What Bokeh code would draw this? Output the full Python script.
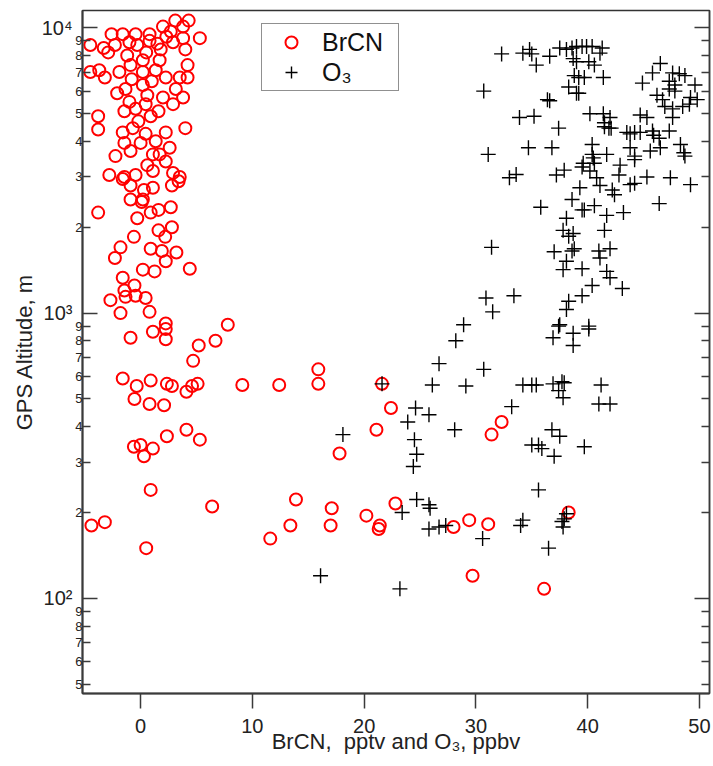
from bokeh.plotting import figure
from bokeh.models import LogAxis, FixedTicker, Legend, LegendItem, Range1d
from bokeh.embed import file_html
from bokeh.resources import INLINE

# ---------------- data ----------------
brcn_x = [3.1, 4.3, 2.0, -2.6, -1.6, -0.45, 0.8, 2.7, 3.8, 5.3,
          -4.5, -3.3, -2.9, -1.0, 0.2, 1.7, 0.8, 1.8, 2.9, 3.8,
          4.0, -2.3, -0.3, -4.5, -3.7, -3.2, -1.9, -0.9, 0.2, 1.35,
          2.25, 3.5, 4.2, 4.2, 0.2, -1.35, 3.15, 2.0, -2.1, -1.0,
          3.8, 2.9, 0.45, -3.8, -3.8, -1.45, -0.45, 0.9, -1.6, -0.7,
          0.45, 2.25, 4.0, -1.45, 0.0, 1.35, -2.25, -0.9, 1.1, 1.7,
          2.25, -2.8, -1.45, -0.45, 1.1, 2.9, 3.5,
          -1.2, 0.5, 1.5, 2.3, -0.8, 1.0, 0.6, 1.6, -0.2, 2.6, 0.6, -0.9,
          -1.6, 3.4, 2.8, -3.8, -0.9, 0.3, 0.1, -0.3, 0.9, 1.6,
          2.7, 1.6, 2.8, -0.6, -1.8, 0.9, 1.9, 3.2, -2.3, 1.1,
          0.2, 2.2, 2.25, 0.2, 1.25, 4.4, -1.6, -0.55, -1.45, -0.45,
          -1.35, -2.7, 0.45, -1.8, 0.8, 2.25, 2.25, -0.9, 1.1, 2.25,
          7.8, 5.2, 6.7, 4.7, -1.6, -0.35, 0.9, -0.55, 0.8, 2.1,
          2.35, 2.8, 4.1, 4.6, 5.1, 9.1, -0.6, 0.0, 0.3, 1.1,
          2.35, 4.1, 5.3, 0.9, 6.4, -4.4, -3.2, 0.5, 12.4, 15.9,
          15.9, 11.6, 13.4, 13.9, 17.1, 17.0, 17.8, 21.6, 22.4, 21.1,
          20.2, 22.8, 21.3, 21.4, 28.0, 29.4, 31.1, 29.7, 36.1, 31.4,
          32.3, 38.3]
brcn_alt = [10600, 10600, 10100, 9500, 9500, 9500, 9500, 9700, 10100, 9200,
            8700, 8500, 8200, 8900, 7700, 7700, 9000, 8400, 8900, 9200,
            8400, 8700, 8700, 7000, 7100, 6700, 7000, 7400, 7000, 7100,
            6700, 6700, 7400, 6700, 6300, 6100, 6100, 5700, 5900, 5500,
            5700, 5400, 5400, 4900, 4400, 5100, 5200, 4900, 4300, 4450,
            4250, 4300, 4450, 3950, 3950, 4000, 3550, 3700, 3600, 3600,
            3400, 3050, 3000, 3050, 3150, 3100, 3000,
            8000, 8200, 8800, 9300, 6600, 6500, 5800, 5100, 4700, 3800, 3300, 2800,
            2950, 2900, 2800, 2250, 2500, 2700, 2450, 2150, 2250, 2300,
            2350, 1950, 2000, 1850, 1700, 1680, 1650, 1630, 1560, 2750,
            2500, 1850, 1520, 1420, 1400, 1430, 1330, 1250, 1200, 1150,
            1140, 1110, 1130, 1000, 1010, 920, 880, 820, 860, 810,
            910, 770, 800, 680, 590, 555, 580, 500, 480, 475,
            565, 555, 530, 555, 565, 560, 340, 345, 315, 335,
            370, 390, 360, 240, 210, 180, 185, 150, 560, 635,
            565, 162, 180, 222, 207, 180, 322, 565, 465, 390,
            195, 215, 175, 180, 178, 188, 182, 120, 108, 375,
            415, 200]

o3_x = [32.3, 34.2, 34.8, 35.0, 35.4, 36.6, 37.5, 38.1, 38.6, 39.0,
        38.7, 38.8, 38.3, 39.0, 30.7, 36.4, 36.6, 33.9, 35.2, 37.4,
        31.1, 34.7, 36.8, 33.0, 33.6, 37.2, 37.9, 35.8, 38.6, 38.1,
        37.8, 38.3, 31.4, 37.0, 38.6, 38.1, 37.8, 30.9, 33.4, 31.5,
        38.3, 38.1, 28.9, 37.5,
        39.5, 39.9, 40.4, 41.1, 41.3, 39.0, 40.1, 40.6, 39.2, 39.7,
        41.4, 39.2, 46.5, 45.8, 47.6, 48.2, 48.7, 44.9, 47.3, 47.8,
        49.6, 47.3, 47.8, 46.2, 46.7, 49.2, 49.8, 46.9, 47.6, 48.5,
        49.1, 47.6, 47.3, 41.4, 42.0, 42.1, 41.5, 44.7, 45.3, 43.8,
        43.5, 44.7, 45.8, 46.4, 48.3, 48.6, 45.6, 46.5, 43.8, 44.2,
        40.4, 40.4, 41.7, 39.6, 40.6, 42.9, 42.8, 45.3, 47.4, 49.2,
        40.8, 41.1, 39.3, 42.2, 43.8, 44.2, 42.4, 46.4, 39.7, 39.5,
        40.6, 41.7, 43.2, 41.5, 38.7, 38.8, 41.0, 42.0, 41.1, 39.5,
        41.7, 42.0, 40.4, 43.1, 39.5, 40.1, 40.2,
        40.2, 39.5, 40.5, 44.2, 48.7, 45.9, 44.2, 41.9, 41.5,
        28.2, 26.7, 26.1, 30.7, 29.1, 36.9, 37.4, 38.7, 38.7, 40.1,
        34.2, 35.0, 35.4, 36.9, 37.7, 37.9, 37.4, 37.8, 33.2, 24.6,
        25.8, 23.9, 28.1, 24.5, 24.7, 24.4, 18.1, 36.8, 37.5, 35.0,
        35.6, 35.9, 37.0, 39.7, 35.6, 24.7, 25.8, 25.9, 23.4, 25.8,
        26.7, 27.3, 30.6, 34.2, 34.0, 37.7, 37.9, 38.1, 37.8, 36.5,
        23.2, 21.6, 16.1, 41.2, 41.0, 42.0]
o3_alt = [8100, 8150, 8400, 8100, 7400, 7950, 8500, 8400, 8500, 8600,
          7800, 6800, 6200, 5900, 6000, 5600, 5550, 4850, 4900, 4450,
          3600, 3800, 3800, 2980, 3060, 3050, 3170, 2350, 2500, 2150,
          1950, 1860, 1700, 1640, 1650, 1520, 1420, 1130, 1150, 1010,
          1100, 1030, 910, 910,
          8600, 8600, 8600, 8150, 8500, 7600, 7600, 7400, 6700, 6700,
          6700, 5900, 7500, 6950, 6950, 6900, 6800, 6400, 6500, 6300,
          6300, 6100, 6000, 5800, 5600, 5700, 5600, 5300, 5200, 5300,
          5400, 4850, 4350, 5000, 4850, 4450, 4500, 4950, 4850, 4250,
          4300, 4300, 4350, 4100, 3900, 3650, 3700, 3800, 3800, 3450,
          3900, 3600, 3600, 3350, 3350, 3300, 3050, 3000, 2980, 2820,
          2980, 2800, 2750, 2700, 2820, 2850, 2600, 2420, 2300, 2300,
          2380, 2200, 2250, 1950, 1900, 1680, 1650, 1680, 1560, 1430,
          1400, 1330, 1250, 1220, 1150, 900, 5000,
          3150, 3250, 3500, 3550, 3550, 4200, 4300, 4450, 4650,
          800, 665, 560, 635, 555, 820, 900, 850, 770, 880,
          560, 560, 560, 565, 575, 570, 535, 505, 470, 465,
          440, 415, 390, 360, 320, 290, 375, 390, 370, 345,
          345, 335, 315, 340, 240, 222, 213, 207, 200, 175,
          178, 180, 162, 188, 180, 186, 190, 198, 178, 150,
          108, 565, 120, 560, 480, 480]

x_ticks = [0, 10, 20, 30, 40, 50]
y_decades = [100, 1000, 10000]
decade_labels = ["10\u00b2", "10\u00b3", "10\u2074"]
y_digit_ticks = [50, 60, 70, 80, 90,
                 200, 300, 400, 500, 600, 700, 800, 900,
                 2000, 3000, 4000, 5000, 6000, 7000, 8000, 9000]
digit_labels = {t: str(t)[0] for t in y_digit_ticks}

FONT = "Liberation Sans"
AX = "#3a3a3a"
TXT = "#222222"

p = figure(width=713, height=756,
           x_range=Range1d(-5.2, 50.9), y_range=Range1d(46.4, 11500),
           y_axis_type="log", output_backend="svg", toolbar_location=None,
           min_border_left=82, min_border_top=10, min_border_right=4,
           min_border_bottom=0)
p.grid.visible = False
p.outline_line_color = "#333333"
p.outline_line_width = 1.5
p.background_fill_color = "white"

r1 = p.scatter(brcn_x, brcn_alt, marker="circle", size=12,
               line_color="#ff0000", fill_color=None, line_width=2)
r2 = p.scatter(o3_x, o3_alt, marker="cross", size=15,
               line_color="black", line_width=1.4)

# inner left axis: 2..9 labels, decade ticks longer (inward)
ya = p.yaxis[0]
ya.ticker = FixedTicker(ticks=y_digit_ticks, minor_ticks=y_decades)
ya.major_label_overrides = digit_labels
ya.major_tick_in = 8
ya.major_tick_out = 0
ya.minor_tick_in = 15
ya.minor_tick_out = 0
ya.major_label_standoff = 0
ya.major_label_text_font = FONT
ya.major_label_text_font_size = "13px"
ya.major_label_text_color = TXT
ya.axis_line_color = AX
ya.axis_line_width = 2
ya.major_tick_line_color = AX
ya.major_tick_line_width = 1.5
ya.minor_tick_line_color = AX
ya.minor_tick_line_width = 1.5

# outer left axis: decade labels and the axis title
yb = LogAxis(ticker=FixedTicker(ticks=y_decades, minor_ticks=[]),
             major_label_overrides=dict(zip(y_decades, decade_labels)),
             major_tick_in=0, major_tick_out=0,
             minor_tick_in=0, minor_tick_out=0,
             axis_line_color=None, major_tick_line_color=None,
             minor_tick_line_color=None,
             major_label_standoff=0,
             major_label_text_font=FONT, major_label_text_font_size="20px",
             major_label_text_color=TXT,
             axis_label="GPS Altitude, m", axis_label_text_font=FONT,
             axis_label_text_font_size="22px", axis_label_text_font_style="normal",
             axis_label_text_color=TXT, axis_label_standoff=2)
p.add_layout(yb, "left")

# right axis: mirrored inward ticks, labels not drawn
yr = LogAxis(ticker=FixedTicker(ticks=y_digit_ticks, minor_ticks=y_decades),
             major_tick_in=8, major_tick_out=0,
             minor_tick_in=15, minor_tick_out=0,
             major_label_text_font_size="1px", major_label_text_alpha=0,
             major_label_standoff=0,
             axis_line_color=AX, axis_line_width=1.5,
             major_tick_line_color=AX, minor_tick_line_color=AX,
             major_tick_line_width=1.5, minor_tick_line_width=1.5)
p.add_layout(yr, "right")

xa = p.xaxis[0]
xa.ticker = FixedTicker(ticks=x_ticks, minor_ticks=[])
xa.major_tick_out = 15
xa.major_tick_in = 0
xa.major_label_standoff = 10
xa.major_label_text_font = FONT
xa.major_label_text_font_size = "20px"
xa.major_label_text_color = TXT
xa.axis_line_color = AX
xa.axis_line_width = 2
xa.major_tick_line_color = AX
xa.major_tick_line_width = 1.5
xa.axis_label = "BrCN,\u00a0 pptv and O\u2083, ppbv"
xa.axis_label_text_font = FONT
xa.axis_label_text_font_size = "22px"
xa.axis_label_text_font_style = "normal"
xa.axis_label_text_color = TXT
xa.axis_label_standoff = -7

legend = Legend(items=[LegendItem(label="BrCN", renderers=[r1]),
                       LegendItem(label="O\u2083", renderers=[r2])],
                location=(179, 602), orientation="vertical",
                padding=3, margin=0, spacing=0,
                glyph_width=52, glyph_height=30, label_height=30,
                label_width=73, label_standoff=5,
                label_text_font=FONT, label_text_font_size="25px",
                label_text_color="#111111",
                border_line_color="#222222", border_line_width=1.2,
                background_fill_color="white", background_fill_alpha=1.0)
p.add_layout(legend, "center")

open("out.html", "w").write(file_html(p, INLINE))
